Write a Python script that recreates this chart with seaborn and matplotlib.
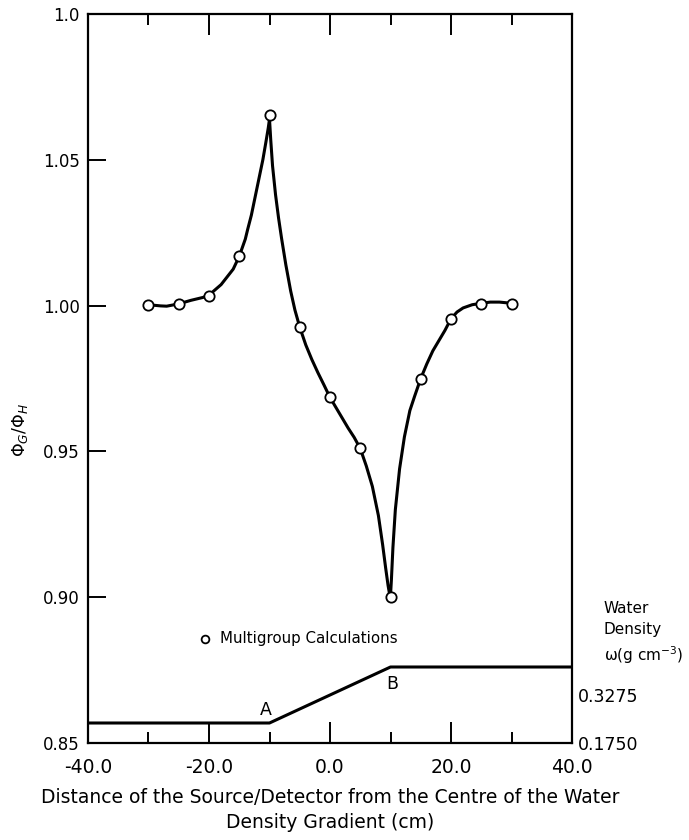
import matplotlib
matplotlib.use("Agg")
import matplotlib.pyplot as plt
import matplotlib.transforms as mtransforms
import seaborn as sns
import pandas as pd

# ---- data ----
calc_x = [-30, -25, -20, -15, -10, -5, 0, 5, 10, 15, 20, 25, 30]
calc_y = [1.0003, 1.0007, 1.0033, 1.0169, 1.0655, 0.9926, 0.9685, 0.9510,
          0.9000, 0.9750, 0.9955, 1.0007, 1.0007]

curve_x = [-30, -28, -27, -25, -23, -21, -20, -18, -16, -15, -14, -13.6, -13,
           -12.3, -11.7, -11.1, -10.6, -10.2, -10.0,
           -9.8, -9.5, -9.0, -8.5, -8.0, -7.3, -6.5, -5.8, -5.0, -4.0, -3.0,
           -2.0, -1.0, 0.0, 1.0, 2.0, 3.0, 4.0, 5.0, 6.0, 7.0, 8.0, 8.7,
           9.2, 9.6, 9.85, 10.0,
           10.15, 10.4, 10.8, 11.5, 12.3, 13.2, 14.0, 15.0, 16.0, 17.0, 18.0,
           19.0, 20.0, 21.0, 22.0, 23.5, 25.0, 26.5, 28.0, 29.0, 30.0]
curve_y = [1.0003, 0.9999, 0.9998, 1.0006, 1.0018, 1.0028, 1.0036, 1.0072,
           1.0125, 1.0169, 1.0228, 1.0262, 1.0310,
           1.0380, 1.0440, 1.0500, 1.0560, 1.0610, 1.0640,
           1.0570, 1.0480, 1.0380, 1.0300, 1.0230, 1.0140, 1.0050, 0.9985,
           0.9926, 0.9865, 0.9815, 0.9770, 0.9728, 0.9685, 0.9650, 0.9615,
           0.9580, 0.9548, 0.9510, 0.9450, 0.9380, 0.9280, 0.9180,
           0.9100, 0.9040, 0.9010, 0.9005,
           0.9060, 0.9170, 0.9300, 0.9440, 0.9550, 0.9640, 0.9690, 0.9750,
           0.9800, 0.9845, 0.9880, 0.9915, 0.9955, 0.9978, 0.9992, 1.0003,
           1.0008, 1.0012, 1.0012, 1.0010, 1.0008]

dens_x = [-40, -10, 10, 40]
dens_w = [0.1750, 0.1750, 0.3275, 0.3275]

xticks_major = [-40, -20, 0, 20, 40]
xticks_minor = [-30, -10, 10, 30]
xtick_labels = ["-40.0", "-20.0", "0.0", "20.0", "40.0"]
yticks = [0.85, 0.90, 0.95, 1.00, 1.05, 1.10]
ytick_labels = ["0.85", "0.90", "0.95", "1.00", "1.05", "1.0"]
dens_labels = ["0.1750", "0.3275"]

# ---- figure ----
sns.set_style("ticks")
plt.rcParams['font.family'] = ['DejaVu Sans']
plt.rcParams['mathtext.fontset'] = 'dejavusans'
plt.rcParams['text.color'] = 'black'
plt.rcParams['axes.labelcolor'] = 'black'

W, H = 689, 840
fig = plt.figure(figsize=(W / 100, H / 100), dpi=100)
L, R, T, B = 88, 572, 14, 743
ax = fig.add_axes([L / W, (H - B) / H, (R - L) / W, (B - T) / H])

curve_df = pd.DataFrame({"x": curve_x, "y": curve_y})
calc_df = pd.DataFrame({"x": calc_x, "y": calc_y})
sns.lineplot(data=curve_df, x="x", y="y", ax=ax, color="black", lw=2.2,
             sort=False, estimator=None)
sns.scatterplot(data=calc_df, x="x", y="y", ax=ax, marker="o", s=55,
                facecolor="white", edgecolor="black", linewidth=1.3,
                zorder=5, label="Multigroup Calculations")

ax.set_xlim(-40, 40)
ax.set_ylim(0.85, 1.10)
ax.set_xticks(xticks_major)
ax.set_xticklabels(xtick_labels)
ax.set_xticks(xticks_minor, minor=True)
ax.set_yticks(yticks)
ax.set_yticklabels(ytick_labels)
ax.tick_params(axis="x", which="major", direction="in", length=15, width=1.4,
               top=True, labelsize=13.5, pad=11, colors="black")
ax.tick_params(axis="x", which="minor", direction="in", length=8, width=1.4,
               top=True, colors="black")
ax.tick_params(axis="y", which="major", direction="in", length=13, width=1.4,
               right=True, labelsize=12, pad=6, colors="black")
for s in ax.spines.values():
    s.set_linewidth(1.6)
    s.set_color("black")

ax.set_xlabel("Distance of the Source/Detector from the Centre of the Water\n"
              "Density Gradient (cm)", fontsize=13.5, labelpad=8,
              linespacing=1.4, color="black")
ax.set_ylabel(r"$\Phi_G/\Phi_H$", fontsize=12.5, labelpad=8, color="black")
ax.yaxis.set_label_coords(-0.12, 0.43)

leg = ax.legend(loc="center left", bbox_to_anchor=(0.21, 0.144),
                frameon=False, fontsize=10.8, handletextpad=0.0,
                markerscale=0.75, borderaxespad=0, borderpad=0,
                labelcolor="black")

# ---- water density on a twin axis ----
ax2 = ax.twinx()
px_per = (0.3275 - 0.1750) / (723 - 667)
ax2.set_ylim(0.1750 - (B - 723) * px_per, 0.3275 + (667 - T) * px_per)
sns.lineplot(x=dens_x, y=dens_w, ax=ax2, color="black", lw=2.2,
             estimator=None)
ax2.set_yticks(dens_w[1:3])
ax2.set_yticklabels(dens_labels)
ax2.tick_params(axis="y", length=0, labelsize=12.5, pad=4, colors="black")
offsets = [-20, -28]
for lab, off in zip(ax2.get_yticklabels(), offsets):
    lab.set_transform(lab.get_transform() +
                      mtransforms.ScaledTranslation(0, off / 100,
                                                    fig.dpi_scale_trans))
for s in ax2.spines.values():
    s.set_visible(False)

ax2.text(-10.6, 0.1750 + 4 * px_per, "A", ha="center", va="bottom",
         fontsize=12.5, color="black")
ax2.text(10.3, 0.3275 - 8 * px_per, "B", ha="center", va="top",
         fontsize=12.5, color="black")

ax.text(1.066, 0.106, "Water\nDensity\n\u03c9(g cm$^{-3}$)",
        transform=ax.transAxes, ha="left", va="bottom", fontsize=11,
        linespacing=1.45, color="black")

fig.savefig("out.png", dpi=100)
